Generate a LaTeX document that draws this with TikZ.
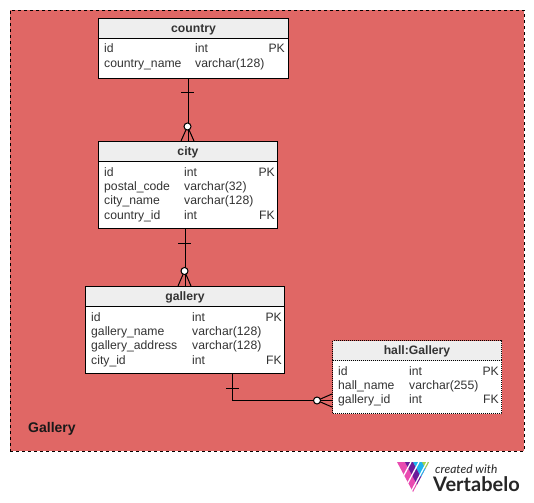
\documentclass[tikz,border=0pt]{standalone}
\usepackage{fontspec}
\setmainfont{Liberation Sans}
\newfontfamily\logofont{Lato}
\definecolor{regionred}{HTML}{E06765}
\definecolor{headgray}{HTML}{EEEEEE}
\definecolor{celltxt}{HTML}{333333}
\definecolor{logopink}{HTML}{E84BB0}
\definecolor{logopurple}{HTML}{6A1B9A}
\definecolor{logoblue}{HTML}{1DB4EC}
\definecolor{logogreen}{HTML}{9AD84B}
\tikzset{
  tablehead/.style={draw=black, line width=1pt, fill=headgray, inner sep=0pt, anchor=north west},
  tablebody/.style={draw=black, line width=1pt, fill=white, inner sep=0pt, anchor=north west},
  headtext/.style={font=\fontsize{12.2}{12}\selectfont\bfseries, text=celltxt, inner sep=0pt, yshift=-0.8pt},
  celltext/.style={font=\fontsize{12.2}{12}\selectfont, text=celltxt, inner sep=0pt, anchor=base west, yshift=-0.6pt},
  keytext/.style={font=\fontsize{12.2}{12}\selectfont, text=celltxt, inner sep=0pt, anchor=base east, yshift=-0.6pt},
  ringend/.style={circle, draw=black, fill=white, line width=1pt, minimum size=7pt, inner sep=0pt},
  link/.style={draw=black, line width=1pt},
}
\begin{document}
\begin{tikzpicture}[x=1pt, y=-1pt]
    \useasboundingbox (0,0) rectangle (534,502);
    % region
    \fill[white] (0,0) rectangle (534,502);
    \node[draw=black, dashed, line width=0.8pt, fill=regionred, minimum width=514pt, minimum height=441pt, inner sep=0pt, anchor=north west] (region) at (10,10) {};
    \node[font=\fontsize{14}{14}\selectfont\bfseries, text=black!90, inner sep=0pt, anchor=base west] (regionname) at (28,432) {Gallery};
    % country
    \node[tablehead, minimum width=190pt, minimum height=20pt] (countryhead) at (98,18) {};
    \node[tablebody, minimum width=190pt, minimum height=40pt] (countrybody) at (98,38) {};
    \node[headtext] (countrytitle) at (countryhead.center) {country};
    \node[celltext] (c1a) at (104,52) {id};
    \node[celltext] (c1b) at (195,52) {int};
    \node[keytext] (c1c) at (285,52) {PK};
    \node[celltext] (c2a) at (104,67) {country\_name};
    \node[celltext] (c2b) at (195,67) {varchar(128)};
    % city
    \node[tablehead, minimum width=179pt, minimum height=20pt] (cityhead) at (98,141) {};
    \node[tablebody, minimum width=179pt, minimum height=67pt] (citybody) at (98,161) {};
    \node[headtext] (citytitle) at (cityhead.center) {city};
    \node[celltext] (t1a) at (104,176) {id};
    \node[celltext] (t1b) at (184,176) {int};
    \node[keytext] (t1c) at (275,176) {PK};
    \node[celltext] (t2a) at (104,190) {postal\_code};
    \node[celltext] (t2b) at (184,190) {varchar(32)};
    \node[celltext] (t3a) at (104,204) {city\_name};
    \node[celltext] (t3b) at (184,204) {varchar(128)};
    \node[celltext] (t4a) at (104,219) {country\_id};
    \node[celltext] (t4b) at (184,219) {int};
    \node[keytext] (t4c) at (275,219) {FK};
    % gallery
    \node[tablehead, minimum width=199pt, minimum height=20pt] (galleryhead) at (85,286) {};
    \node[tablebody, minimum width=199pt, minimum height=67pt] (gallerybody) at (85,306) {};
    \node[headtext] (gallerytitle) at (galleryhead.center) {gallery};
    \node[celltext] (g1a) at (91,321) {id};
    \node[celltext] (g1b) at (192,321) {int};
    \node[keytext] (g1c) at (282,321) {PK};
    \node[celltext] (g2a) at (91,335) {gallery\_name};
    \node[celltext] (g2b) at (192,335) {varchar(128)};
    \node[celltext] (g3a) at (91,349) {gallery\_address};
    \node[celltext] (g3b) at (192,349) {varchar(128)};
    \node[celltext] (g4a) at (91,364) {city\_id};
    \node[celltext] (g4b) at (192,364) {int};
    \node[keytext] (g4c) at (282,364) {FK};
    % hall
    \node[tablehead, densely dotted, minimum width=169pt, minimum height=20pt] (hallhead) at (332,340) {};
    \node[tablebody, densely dotted, minimum width=169pt, minimum height=53pt] (hallbody) at (332,360) {};
    \node[headtext] (halltitle) at (hallhead.center) {hall:Gallery};
    \node[celltext] (h1a) at (338,375) {id};
    \node[celltext] (h1b) at (409,375) {int};
    \node[keytext] (h1c) at (499,375) {PK};
    \node[celltext] (h2a) at (338,389) {hall\_name};
    \node[celltext] (h2b) at (409,389) {varchar(255)};
    \node[celltext] (h3a) at (338,403) {gallery\_id};
    \node[celltext] (h3b) at (409,403) {int};
    \node[keytext] (h3c) at (499,403) {FK};
    % country - city
    \coordinate (ringone) at (187.5,126.5);
    \draw[link] (countrybody.south -| cityhead.north) -- (cityhead.north);
    \draw[link] (181,93) -- (194,93);
    \draw[link] (181,141) -- (ringone) -- (194,141);
    \node[ringend] (ringa) at (ringone) {};
    % city - gallery
    \coordinate (ringtwo) at (184.5,271);
    \draw[link] (citybody.south -| galleryhead.north) -- (galleryhead.north);
    \draw[link] (178,243.5) -- (191,243.5);
    \draw[link] (178,286) -- (ringtwo) -- (191,286);
    \node[ringend] (ringb) at (ringtwo) {};
    % gallery - hall
    \coordinate (ringthree) at (317,400.5);
    \coordinate (bend) at (232.5,400.5);
    \draw[link] (bend |- gallerybody.south) -- (bend) -- (bend -| hallbody.west);
    \draw[link] (226,388.5) -- (239,388.5);
    \draw[link] (332,394) -- (ringthree) -- (332,407);
    \node[ringend] (ringc) at (ringthree) {};
    % logo
    \begin{scope}
      \clip (397,462) -- (429,462) -- (413,492) -- cycle;
      \fill[logopink] (390,455) rectangle (440,500);
      \fill[logopurple] (405,462) -- (413,462) -- (428,490) -- (420,490) -- cycle;
      \fill[logoblue] (413,462) -- (422,462) -- (437,490) -- (428,490) -- cycle;
      \fill[logogreen] (422,462) -- (430,462) -- (445,490) -- (437,490) -- cycle;
      \foreach \i in {0,8,16} {
        \draw[white, line width=1.3pt] (411+\i,462) -- (395+\i,492);
      }
    \end{scope}
    \node[font=\logofont\itshape\fontsize{12}{12}\selectfont, text=black!85, inner sep=0pt, anchor=base west] (logotop) at (435,473) {created with};
    \node[font=\logofont\bfseries\fontsize{20}{20}\selectfont, text=black!85, inner sep=0pt, anchor=base west] (logoname) at (433,491) {Vertabelo};
\end{tikzpicture}
\end{document}
